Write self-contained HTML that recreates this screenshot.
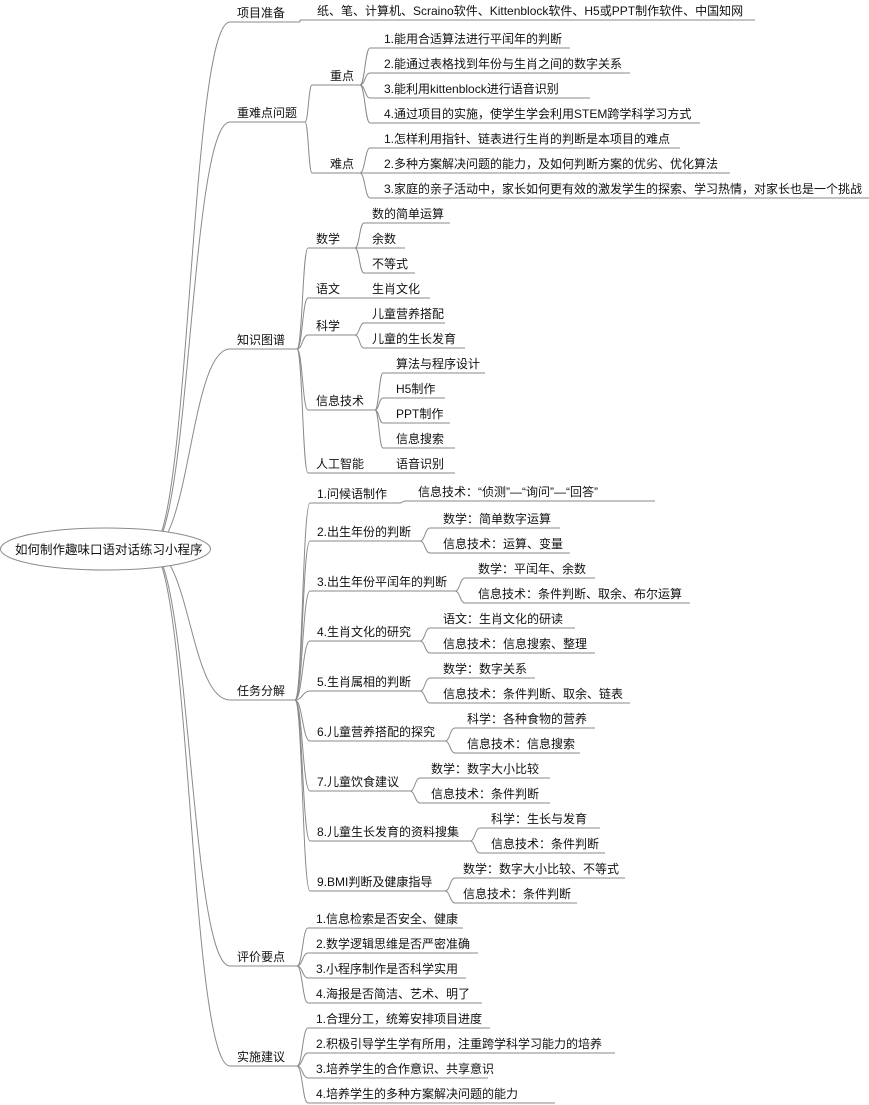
<!DOCTYPE html>
<html><head><meta charset="utf-8"><style>
html,body{margin:0;padding:0;background:#fff;}
svg{display:block}
text{font-family:"Liberation Sans","Noto Sans CJK SC",sans-serif;font-size:12px;fill:#111;}
</style></head><body>
<svg id="s" width="869" height="1105" xmlns="http://www.w3.org/2000/svg"></svg>
<script>
var s=document.getElementById('s'),out='';
function line(x1,y,x2){out+='<line x1="'+x1+'" y1="'+y+'" x2="'+x2+'" y2="'+y+'" stroke="#8a8a8a" stroke-width="1"/>';}
function curve(px,py,cx,cy){var m=(px+cx)/2;out+='<path d="M'+px+' '+py+' C'+m+' '+py+' '+m+' '+cy+' '+cx+' '+cy+'" fill="none" stroke="#8a8a8a" stroke-width="1"/>';}
function node(t,x,y,x2,tx){line(x,y,x2);out+='<text x="'+(tx||x+7)+'" y="'+(y-5)+'">'+t+'</text>';}
function kids(px,py,cx,arr){arr.forEach(function(a){curve(px,py,cx,a[1]);node(a[0],cx,a[1],a[2],a[3]);});}
var L1=[['项目准备',22],['重难点问题',122],['知识图谱',349],['任务分解',700],['评价要点',966],['实施建议',1066]];
L1.forEach(function(a){curve(150,549,230,a[1]);});
// root
out+='<ellipse cx="105.5" cy="549" rx="105" ry="21" fill="#fff" stroke="#8a8a8a"/>';
out+='<text x="15" y="554" style="font-size:12.5px">如何制作趣味口语对话练习小程序</text>';
node('项目准备',230,22,300);
node('重难点问题',230,122,305);
node('知识图谱',230,349,297);
node('任务分解',230,700,295);
node('评价要点',230,966,297);
node('实施建议',230,1066,297);
kids(300,22,300,[['纸、笔、计算机、Scraino软件、Kittenblock软件、H5或PPT制作软件、中国知网',20,755,317]]);
kids(305,122,312,[['重点',85,360,330],['难点',173,360,330]]);
kids(360,85,370,[['1.能用合适算法进行平闰年的判断',48,570,384],['2.能通过表格找到年份与生肖之间的数字关系',73,630,384],['3.能利用kittenblock进行语音识别',98,590,384],['4.通过项目的实施，使学生学会利用STEM跨学科学习方式',123,700,384]]);
kids(360,173,370,[['1.怎样利用指针、链表进行生肖的判断是本项目的难点',148,680,384],['2.多种方案解决问题的能力，及如何判断方案的优劣、优化算法',173,730,384],['3.家庭的亲子活动中，家长如何更有效的激发学生的探索、学习热情，对家长也是一个挑战',198,869,384]]);
kids(297,349,308,[['数学',248,355,316],['语文',298,355,316],['科学',335,355,316],['信息技术',410,375,316],['人工智能',473,375,316]]);
kids(355,248,364,[['数的简单运算',223,450,372],['余数',248,405,372],['不等式',273,415,372]]);
kids(355,298,364,[['生肖文化',298,430,372]]);
kids(355,335,364,[['儿童营养搭配',323,445,372],['儿童的生长发育',348,465,372]]);
kids(375,410,383,[['算法与程序设计',373,485,396],['H5制作',398,445,396],['PPT制作',423,450,396],['信息搜索',448,455,396]]);
kids(375,473,383,[['语音识别',473,455,396]]);
kids(295,700,310,[['1.问候语制作',503,400,317],['2.出生年份的判断',541,420,317],['3.出生年份平闰年的判断',591,455,317],['4.生肖文化的研究',641,420,317],['5.生肖属相的判断',691,420,317],['6.儿童营养搭配的探究',741,445,317],['7.儿童饮食建议',791,410,317],['8.儿童生长发育的资料搜集',841,470,317],['9.BMI判断及健康指导',891,445,317]]);
kids(400,503,405,[['信息技术：“侦测”—“询问”—“回答”',501,655,418]]);
kids(420,541,430,[['数学：简单数字运算',528,560,443],['信息技术：运算、变量',553,570,443]]);
kids(455,591,465,[['数学：平闰年、余数',578,595,478],['信息技术：条件判断、取余、布尔运算',603,690,478]]);
kids(420,641,430,[['语文：生肖文化的研读',628,575,443],['信息技术：信息搜索、整理',653,595,443]]);
kids(420,691,430,[['数学：数字关系',678,535,443],['信息技术：条件判断、取余、链表',703,630,443]]);
kids(445,741,455,[['科学：各种食物的营养',728,595,467],['信息技术：信息搜索',753,580,467]]);
kids(410,791,420,[['数学：数字大小比较',778,550,431],['信息技术：条件判断',803,550,431]]);
kids(470,841,480,[['科学：生长与发育',828,600,491],['信息技术：条件判断',853,605,491]]);
kids(445,891,455,[['数学：数字大小比较、不等式',878,625,463],['信息技术：条件判断',903,577,463]]);
kids(297,966,308,[['1.信息检索是否安全、健康',928,463,316],['2.数学逻辑思维是否严密准确',953,478,316],['3.小程序制作是否科学实用',978,466,316],['4.海报是否简洁、艺术、明了',1003,482,316]]);
kids(297,1066,308,[['1.合理分工，统筹安排项目进度',1028,490,316],['2.积极引导学生学有所用，注重跨学科学习能力的培养',1053,615,316],['3.培养学生的合作意识、共享意识',1078,488,316],['4.培养学生的多种方案解决问题的能力',1103,555,316]]);
s.innerHTML=out;
</script>
</body></html>
